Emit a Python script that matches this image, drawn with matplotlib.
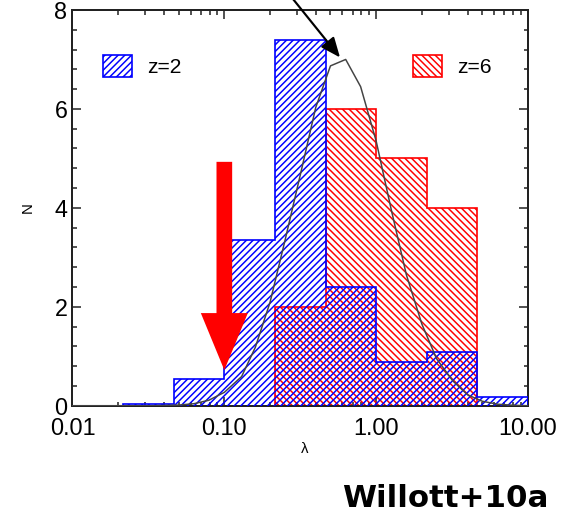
import matplotlib
matplotlib.use("Agg")
import matplotlib.pyplot as plt
from matplotlib.patches import Patch
from matplotlib.ticker import MultipleLocator, FixedLocator, FixedFormatter, LogLocator, NullFormatter

# ── Data ─────────────────────────────────────────────────────────────────────

bin_edges = [0.0215, 0.0464, 0.1, 0.215, 0.464, 1.0, 2.15, 4.64, 10.0]
n_z2 = [0.04, 0.53, 3.35, 7.40, 2.40, 0.89, 1.08, 0.17]
n_z6 = [0.0, 0.0, 0.0, 2.0, 6.0, 5.0, 4.0, 0.0]

curve_lam = [0.010, 0.013, 0.016, 0.020, 0.025, 0.032, 0.040, 0.050, 0.063, 0.079,
             0.10, 0.13, 0.16, 0.20, 0.25, 0.32, 0.40, 0.50, 0.63, 0.79,
             1.0, 1.26, 1.58, 2.0, 2.5, 3.2, 4.0, 5.0, 6.3, 7.9, 10.0]
curve_n = [0.0, 0.0, 0.0, 0.0, 0.0, 0.0, 0.005, 0.013, 0.04, 0.11,
           0.27, 0.59, 1.18, 2.09, 3.32, 4.73, 6.03, 6.87, 7.0, 6.45,
           5.35, 3.95, 2.65, 1.65, 0.95, 0.5, 0.22, 0.09, 0.03, 0.01, 0.0]

xticks = [0.01, 0.1, 1.0, 10.0]
xtick_labels = ["0.01", "0.10", "1.00", "10.00"]
yticks = [0, 2, 4, 6, 8]

lam_limit = 0.1            # red arrow position
limit_from, limit_to = 4.93, 0.72
peak_tip = (0.578, 7.04)   # black arrow tip
peak_from = (0.2395, 8.5)

# ── Figure ───────────────────────────────────────────────────────────────────

DPI = 120
HATCH_Z2 = "//////"
HATCH_Z6 = "\\\\\\\\\\\\"

plt.rcParams["font.family"] = ["Liberation Sans", "DejaVu Sans"]
plt.rcParams["hatch.linewidth"] = 0.9

fig = plt.figure(figsize=(562 / DPI, 520 / DPI), dpi=DPI)
ax = fig.add_axes([0.1290, 0.2198, 0.8105, 0.7610])

ax.stairs(n_z6, bin_edges, baseline=0, fill=True, facecolor="none",
          edgecolor="red", hatch=HATCH_Z6, linewidth=1.0, zorder=2)
ax.stairs(n_z2, bin_edges, baseline=0, fill=True, facecolor="none",
          edgecolor="blue", hatch=HATCH_Z2, linewidth=1.0, zorder=3)

ax.plot(curve_lam, curve_n, color="#444444", linewidth=0.9, zorder=4)

ax.set_xscale("log")
ax.set_xlim(0.01, 10.0)
ax.set_ylim(0, 8)

# IDL-like frame
for s in ax.spines.values():
    s.set_linewidth(1.2)
    s.set_color("#222222")
ax.xaxis.set_major_locator(FixedLocator(xticks))
ax.xaxis.set_major_formatter(FixedFormatter(xtick_labels))
ax.xaxis.set_minor_locator(LogLocator(base=10, subs=range(2, 10)))
ax.xaxis.set_minor_formatter(NullFormatter())
ax.yaxis.set_major_locator(FixedLocator(yticks))
ax.yaxis.set_minor_locator(MultipleLocator(0.4))
ax.tick_params(which="both", direction="in", top=True, right=True,
               color="#333333", width=1.0)
ax.tick_params(which="major", length=5.4, labelsize=14)
ax.tick_params(which="minor", length=2.7)
ax.tick_params(axis="x", pad=7)
ax.tick_params(axis="y", pad=3)

ax.set_xlabel("λ", fontsize=9)
ax.xaxis.set_label_coords(0.51, -0.092)
ax.set_ylabel("N", fontsize=9)
ax.yaxis.set_label_coords(-0.082, 0.5)

# legends
leg_kw = dict(loc="center left", frameon=False, borderpad=0, borderaxespad=0,
              handlelength=1.4, handleheight=1.18, handletextpad=0.7, fontsize=12.6)
leg1 = ax.legend(handles=[Patch(facecolor="none", edgecolor="blue", hatch=HATCH_Z2, label="z=2")],
                 bbox_to_anchor=(0.067, 0.858), **leg_kw)
ax.add_artist(leg1)
ax.legend(handles=[Patch(facecolor="none", edgecolor="red", hatch=HATCH_Z6, label="z=6")],
          bbox_to_anchor=(0.7475, 0.858), **leg_kw)

# red upper-limit arrow
ax.annotate("", xy=(lam_limit, limit_to), xytext=(lam_limit, limit_from),
            arrowprops=dict(arrowstyle="simple,head_length=3.42,head_width=2.82,tail_width=0.94",
                            mutation_scale=10, color="red", shrinkA=0, shrinkB=0, lw=0),
            zorder=6)

# black arrow to curve peak
ax.annotate("", xy=peak_tip, xytext=peak_from, annotation_clip=False,
            arrowprops=dict(arrowstyle="-|>,head_length=1.0,head_width=0.42",
                            mutation_scale=10, color="black", lw=1.3,
                            shrinkA=0, shrinkB=0),
            zorder=6)

fig.text(548 / 562, 1 - 507 / 520, "Willott+10a", ha="right", va="baseline",
         fontsize=18.5, fontweight="bold", family="DejaVu Sans")

fig.savefig("out.png", dpi=DPI)
